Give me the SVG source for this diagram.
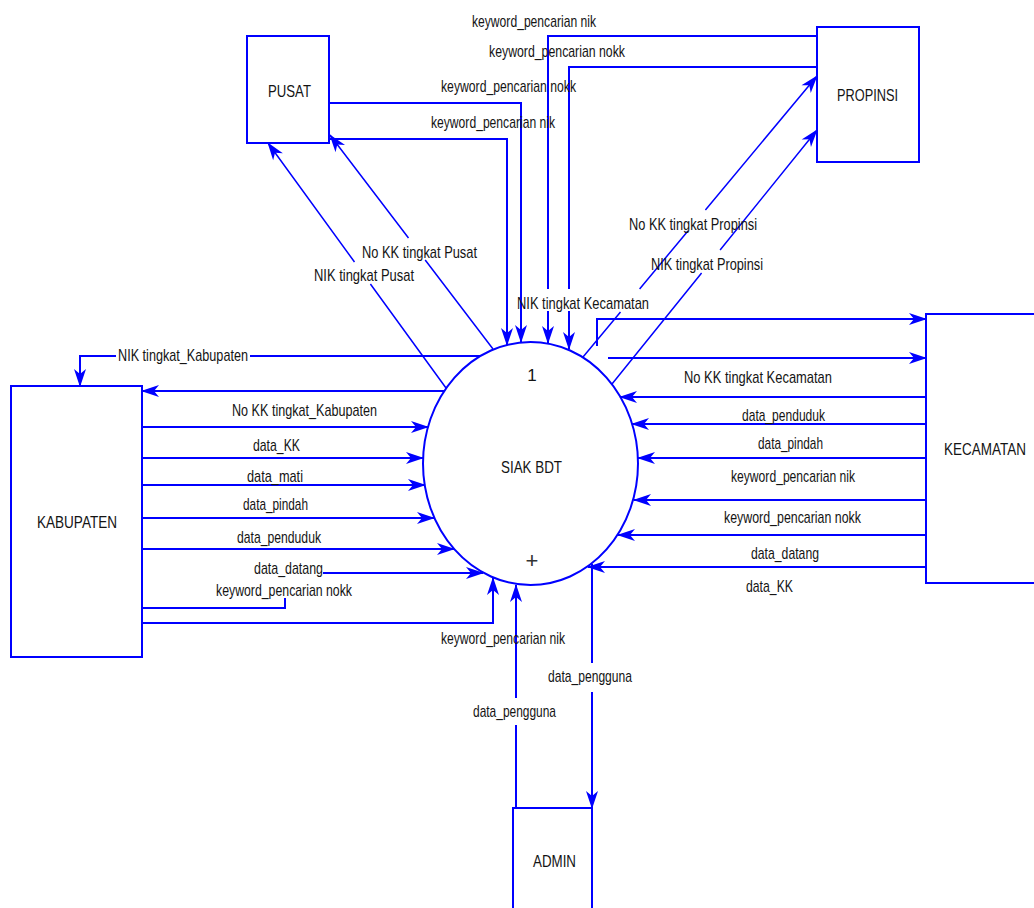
<svg xmlns="http://www.w3.org/2000/svg" width="1034" height="908" viewBox="0 0 1034 908">
<style>
.box{fill:#fff;stroke:#0000ff;stroke-width:2}
.c{fill:none;stroke:#0000ff;stroke-width:2}
.d{fill:none;stroke:#0000ff;stroke-width:1.5}
text{font-family:"Liberation Sans",Arial,sans-serif;font-size:17px;fill:#141414}
</style>
<defs>
<marker id="ah" markerUnits="userSpaceOnUse" viewBox="-18 -7 20 14" markerWidth="20" markerHeight="14" refX="0" refY="0" orient="auto">
<path d="M1,0 L-17,-6 L-12,0 L-17,6 Z" fill="#0000ff"/>
</marker>
</defs>
<rect width="1034" height="908" fill="#fff"/>

<g id="connectors">
<path class="c" d="M329,103 H521 V342" marker-end="url(#ah)"/>
<path class="c" d="M329,139 H507 V345" marker-end="url(#ah)"/>
<path class="c" d="M817,36 H548 V289 M548,311 V343" marker-end="url(#ah)"/>
<path class="c" d="M817,67 H569 V289 M569,311 V349" marker-end="url(#ah)"/>
<path class="d" d="M446,388 L370.4,284 M354.5,262 L268,143" marker-end="url(#ah)"/>
<path class="d" d="M493,349 L425.2,260 M408.5,238 L330,135" marker-end="url(#ah)"/>
<path class="d" d="M583,357 L620.5,312 M639.6,289 L687.9,231 M705.4,210 L817,76" marker-end="url(#ah)"/>
<path class="d" d="M612,384 L701.6,273 M720.1,250 L817,130" marker-end="url(#ah)"/>
<path class="c" d="M597,346 V319 H926" marker-end="url(#ah)"/>
<path class="c" d="M608,358 H926" marker-end="url(#ah)"/>
<path class="c" d="M926,397 H620" marker-end="url(#ah)"/>
<path class="c" d="M926,424 H632" marker-end="url(#ah)"/>
<path class="c" d="M926,458 H638" marker-end="url(#ah)"/>
<path class="c" d="M926,500 H634" marker-end="url(#ah)"/>
<path class="c" d="M926,535 H618" marker-end="url(#ah)"/>
<path class="c" d="M926,567 H588" marker-end="url(#ah)"/>
<path class="c" d="M592,564 V663 M592,692 V808" marker-end="url(#ah)"/>
<path class="c" d="M516,808 V725 M516,698 V585" marker-end="url(#ah)"/>
<path class="c" d="M142,623 H493 V578" marker-end="url(#ah)"/>
<path class="c" d="M142,608 H285 V598"/>
<path class="c" d="M323,573 H483" marker-end="url(#ah)"/>
<path class="c" d="M142,549 H454" marker-end="url(#ah)"/>
<path class="c" d="M142,518 H434" marker-end="url(#ah)"/>
<path class="c" d="M142,485 H425" marker-end="url(#ah)"/>
<path class="c" d="M142,458 H423" marker-end="url(#ah)"/>
<path class="c" d="M142,427 H428" marker-end="url(#ah)"/>
<path class="c" d="M445,391 H142" marker-end="url(#ah)"/>
<path class="c" d="M480,356 H250 M116,356 H80 V386" marker-end="url(#ah)"/>
</g>

<g id="labels">
<text x="472" y="27" textLength="124" lengthAdjust="spacingAndGlyphs">keyword_pencarian nik</text>
<text x="489" y="57" textLength="136" lengthAdjust="spacingAndGlyphs">keyword_pencarian nokk</text>
<text x="441" y="92" textLength="135" lengthAdjust="spacingAndGlyphs">keyword_pencarian nokk</text>
<text x="431" y="128" textLength="124" lengthAdjust="spacingAndGlyphs">keyword_pencarian nik</text>
<text x="629" y="230" textLength="128" lengthAdjust="spacingAndGlyphs">No KK tingkat Propinsi</text>
<text x="651" y="270" textLength="112" lengthAdjust="spacingAndGlyphs">NIK tingkat Propinsi</text>
<text x="362" y="258" textLength="115" lengthAdjust="spacingAndGlyphs">No KK tingkat Pusat</text>
<text x="314" y="281" textLength="100" lengthAdjust="spacingAndGlyphs">NIK tingkat Pusat</text>
<text x="517" y="309" textLength="132" lengthAdjust="spacingAndGlyphs">NIK tingkat Kecamatan</text>
<text x="118" y="361" textLength="130" lengthAdjust="spacingAndGlyphs">NIK tingkat_Kabupaten</text>
<text x="232" y="416" textLength="145" lengthAdjust="spacingAndGlyphs">No KK tingkat_Kabupaten</text>
<text x="253" y="451" textLength="47" lengthAdjust="spacingAndGlyphs">data_KK</text>
<text x="247" y="482" textLength="56" lengthAdjust="spacingAndGlyphs">data_mati</text>
<text x="243" y="510" textLength="65" lengthAdjust="spacingAndGlyphs">data_pindah</text>
<text x="237" y="543" textLength="84" lengthAdjust="spacingAndGlyphs">data_penduduk</text>
<text x="254" y="574" textLength="69" lengthAdjust="spacingAndGlyphs">data_datang</text>
<text x="216" y="596" textLength="136" lengthAdjust="spacingAndGlyphs">keyword_pencarian nokk</text>
<text x="684" y="383" textLength="148" lengthAdjust="spacingAndGlyphs">No KK tingkat Kecamatan</text>
<text x="742" y="421" textLength="83" lengthAdjust="spacingAndGlyphs">data_penduduk</text>
<text x="758" y="449" textLength="65" lengthAdjust="spacingAndGlyphs">data_pindah</text>
<text x="731" y="482" textLength="124" lengthAdjust="spacingAndGlyphs">keyword_pencarian nik</text>
<text x="724" y="523" textLength="137" lengthAdjust="spacingAndGlyphs">keyword_pencarian nokk</text>
<text x="751" y="559" textLength="68" lengthAdjust="spacingAndGlyphs">data_datang</text>
<text x="746" y="592" textLength="47" lengthAdjust="spacingAndGlyphs">data_KK</text>
<text x="441" y="644" textLength="124" lengthAdjust="spacingAndGlyphs">keyword_pencarian nik</text>
<text x="473" y="717" textLength="83" lengthAdjust="spacingAndGlyphs">data_pengguna</text>
<text x="548" y="682" textLength="84" lengthAdjust="spacingAndGlyphs">data_pengguna</text>
</g>

<g id="process-1">
<ellipse cx="530.5" cy="463.5" rx="107.5" ry="121.5" fill="none" stroke="#0000ff" stroke-width="2"/>
<text x="532" y="381" text-anchor="middle">1</text>
<text x="501" y="473" textLength="61" lengthAdjust="spacingAndGlyphs">SIAK BDT</text>
<text x="532" y="568" text-anchor="middle" style="font-size:22px;fill:#333">+</text>
</g>

<g id="pusat">
<rect class="box" x="247" y="36" width="82" height="107"/>
<text x="268" y="97" textLength="43" lengthAdjust="spacingAndGlyphs">PUSAT</text>
</g>

<g id="propinsi">
<rect class="box" x="817" y="27" width="102" height="135"/>
<text x="837" y="101" textLength="61" lengthAdjust="spacingAndGlyphs">PROPINSI</text>
</g>

<g id="kabupaten">
<rect class="box" x="11" y="386" width="131" height="271"/>
<text x="37" y="528" textLength="80" lengthAdjust="spacingAndGlyphs">KABUPATEN</text>
</g>

<g id="kecamatan">
<rect class="box" x="926" y="314" width="120" height="269"/>
<text x="944" y="455" textLength="82" lengthAdjust="spacingAndGlyphs">KECAMATAN</text>
</g>

<g id="admin">
<rect class="box" x="513" y="808" width="79" height="110"/>
<text x="533" y="867" textLength="43" lengthAdjust="spacingAndGlyphs">ADMIN</text>
</g>
</svg>
